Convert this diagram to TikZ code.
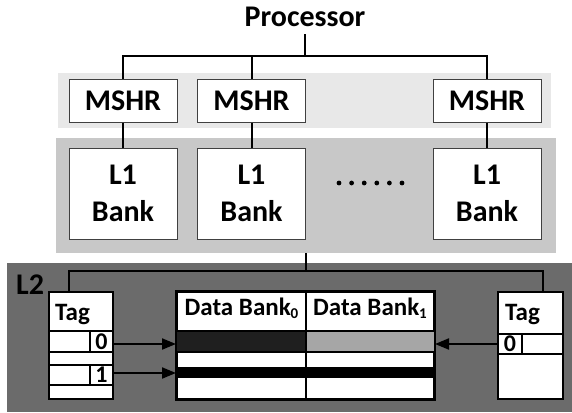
\documentclass[tikz,border=0pt]{standalone}
\usepackage{fontspec}
\setmainfont{Carlito}
\usetikzlibrary{arrows.meta}
\definecolor{bandlight}{HTML}{E8E8E8}
\definecolor{bandmid}{HTML}{C8C8C8}
\definecolor{bandlow}{HTML}{6B6B6B}
\definecolor{rowdark}{HTML}{1F1F1F}
\definecolor{rowgray}{HTML}{A6A6A6}
\definecolor{thinedge}{HTML}{404040}

\begin{document}
\begin{tikzpicture}[x=1pt,y=-1pt,
  big/.style={font=\fontsize{30}{37}\selectfont\bfseries},
  small/.style={font=\fontsize{25}{28}\selectfont\bfseries},
  band/.style={inner sep=0pt,outer sep=0pt},
  upbox/.style={draw=thinedge,line width=1pt,fill=white,inner sep=0pt,
    minimum width=108pt,align=center,big},
  wire/.style={line width=2pt,black},
  lowbox/.style={draw=black,line width=2pt,fill=white,inner sep=0pt},
  rule/.style={line width=2pt,black},
  cell/.style={lowbox,minimum width=23pt,font=\fontsize{24}{26}\selectfont\bfseries},
  arr/.style={wire,-{Triangle[length=14pt,width=11pt]}}
]
\useasboundingbox (0,0) rectangle (572,412);

% background bands
\node[band,fill=bandlight,minimum width=493pt,minimum height=55pt] (band1) at (304.5,100.5) {};
\node[band,fill=bandmid,minimum width=500pt,minimum height=115pt] (band2) at (306,195.5) {};
\node[band,fill=bandlow,minimum width=565pt,minimum height=149.5pt] (band3) at (289.5,337.25) {};

% processor and first level
\node[big,inner sep=0pt,anchor=base] (proc) at (305,27) {Processor};
\node[upbox,minimum height=43pt] (m1) at (123,100.5) {MSHR};
\node[upbox,minimum height=43pt] (m2) at (251.5,100.5) {MSHR};
\node[upbox,minimum height=43pt] (m3) at (487,100.5) {MSHR};
\node[upbox,minimum height=91pt] (l1) at (123,193.5) {L1\\Bank};
\node[upbox,minimum height=91pt] (l2) at (251.5,193.5) {L1\\Bank};
\node[upbox,minimum height=91pt] (l3) at (487,193.5) {L1\\Bank};
\foreach \k in {0,...,5}
  \fill (339+12.6*\k,183) circle (2.4pt);

% processor bus
\coordinate (bus) at (0,56);
\draw[wire] ([yshift=-7pt]proc.south) -- (proc.south |- bus);
\draw[wire] (m1.north) -- (m1.north |- bus) -- (m3.north |- bus) -- (m3.north);
\draw[wire] (m2.north) -- (m2.north |- bus);
\foreach \i in {1,2,3}
  \draw[wire] (m\i.south) -- (l\i.north);

% L2
\node[big,inner sep=0pt,anchor=base west] (l2lbl) at (16,294) {L2};

% left tag array
\node[lowbox,minimum width=64pt,minimum height=107pt] (tagL) at (81,345.5) {};
\draw[rule] (49,331) -- (113,331);
\draw[rule] (49,352) -- (113,352);
\draw[rule] (49,365) -- (113,365);
\draw[rule] (49,385) -- (113,385);
\node[cell,minimum height=21pt] (c0) at (101.5,341.5) {0};
\node[cell,minimum height=20pt] (c1) at (101.5,375) {1};
\node[small,inner sep=0pt,anchor=base west] (tagtL) at (55,320) {Tag};

% data banks
\node[lowbox,minimum width=257pt,minimum height=107pt] (db) at (305.5,345.5) {};
\fill[rowdark] (177,331) rectangle (306,352);
\fill[rowgray] (306,331) rectangle (434,352);
\fill[black] (177,368) rectangle (434,377);
\draw[rule] (177,331) -- (434,331);
\draw[rule] (177,352) -- (434,352);
\draw[rule] (177,368) -- (434,368);
\draw[rule] (177,377) -- (434,377);
\draw[rule] (306,292) -- (306,399);
\draw[rule] (db.north west) rectangle (db.south east);
\node[small,inner sep=0pt,anchor=base] (dbt0) at (241.5,315)
  {Data Bank\raisebox{-3pt}{\fontsize{15}{15}\selectfont 0}};
\node[small,inner sep=0pt,anchor=base] (dbt1) at (370,315)
  {Data Bank\raisebox{-3pt}{\fontsize{15}{15}\selectfont 1}};

% right tag array
\node[lowbox,minimum width=65pt,minimum height=107pt] (tagR) at (530.5,345.5) {};
\draw[rule] (498,334) -- (563,334);
\draw[rule] (498,354) -- (563,354);
\node[cell,minimum width=24pt,minimum height=20pt] (r0) at (510,344) {0};
\node[small,inner sep=0pt,anchor=base west] (tagtR) at (505,320) {Tag};

% L2 bus
\coordinate (l2bus) at (0,271);
\coordinate (tapL) at ([xshift=21pt]tagL.north west);
\coordinate (tapR) at ([xshift=-21pt]tagR.north east);
\draw[wire] (band2.south) -- (band2.south |- l2bus);
\draw[wire] (tapL) -- (tapL |- l2bus) -- (tapR |- l2bus) -- (tapR);

% tag to data arrows
\draw[arr] ([yshift=-2.5pt]c0.east) -- ([yshift=-2.5pt]c0.east -| db.west);
\draw[arr] ([yshift=2pt]c1.east) -- ([yshift=2pt]c1.east -| db.west);
\draw[arr] (r0.west) -- (r0.west -| db.east);
\end{tikzpicture}
\end{document}
